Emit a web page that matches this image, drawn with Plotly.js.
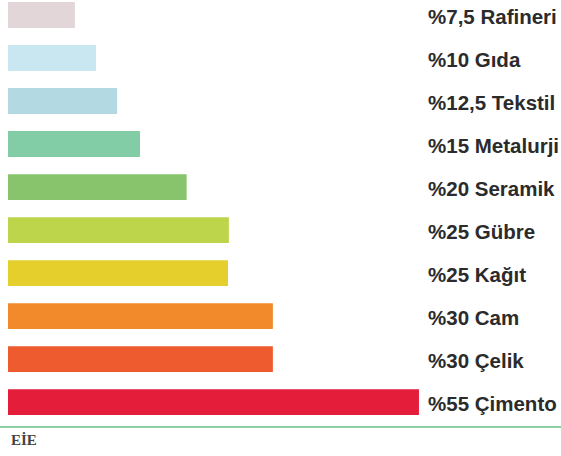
<!DOCTYPE html>
<html>
<head>
<meta charset="utf-8">
<script src="https://cdn.plot.ly/plotly-3.0.1.min.js"></script>
<style>html,body{margin:0;padding:0;background:#fff;}#chart{width:561px;height:456px;}</style>
</head>
<body>
<div id="chart"></div>
<script>
// Sectors (top to bottom)
const sectors = ["Rafineri", "Gıda", "Tekstil", "Metalurji", "Seramik", "Gübre", "Kağıt", "Cam", "Çelik", "Çimento"];
// Percentages shown in labels
const percentLabels = ["7,5", "10", "12,5", "15", "20", "25", "25", "30", "30", "55"];
// Drawn bar lengths (last bar is visually truncated)
const barLengths = [7.6, 10, 12.4, 15, 20.3, 25.1, 25, 30.1, 30.1, 46.7];
const barColors = ["#e2d6d9", "#c9e7f1", "#b3d9e2", "#82cca6", "#87c46c", "#bdd54b", "#e5cf2c", "#f28a2c", "#ee5b2f", "#e31d3a"];
const sourceText = "EİE";

const W = 561, H = 456, ml = 8, mb = 29;
const plotW = W - ml;

const trace = {
  type: "bar",
  orientation: "h",
  x: barLengths,
  y: sectors,
  marker: {color: barColors, line: {width: 0}},
  hoverinfo: "skip"
};

const annotations = sectors.map((s, i) => ({
  xref: "paper", yref: "y",
  x: (426 - ml) / plotW, y: s,
  xanchor: "left", yanchor: "middle",
  yshift: -1,
  text: "%" + percentLabels[i] + " " + s,
  showarrow: false,
  font: {family: "Liberation Sans, Arial, sans-serif", size: 20.5, color: "#2b2b2b", weight: 700}
}));
annotations.push({
  xref: "paper", yref: "paper",
  x: (9 - ml) / plotW, y: -(440 - (H - mb)) / (H - mb),
  xanchor: "left", yanchor: "middle",
  text: "<b>" + sourceText + "</b>",
  showarrow: false,
  font: {family: "Liberation Serif, serif", size: 15, color: "#444"}
});

const layout = {
  width: W, height: H,
  margin: {l: ml, r: 0, t: 0, b: mb, pad: 0},
  paper_bgcolor: "#fff", plot_bgcolor: "#fff",
  showlegend: false,
  bargap: 0.4,
  xaxis: {range: [0, plotW / 8.8], visible: false, fixedrange: true},
  yaxis: {type: "category", range: [9.58, -0.349], visible: false, fixedrange: true},
  shapes: [{
    type: "line", xref: "paper", yref: "paper",
    x0: -ml / plotW, x1: 1, y0: 0, y1: 0,
    line: {color: "#8fcfa6", width: 2}
  }],
  annotations: annotations
};

Plotly.newPlot("chart", [trace], layout, {displayModeBar: false, staticPlot: true});
</script>
</body>
</html>
